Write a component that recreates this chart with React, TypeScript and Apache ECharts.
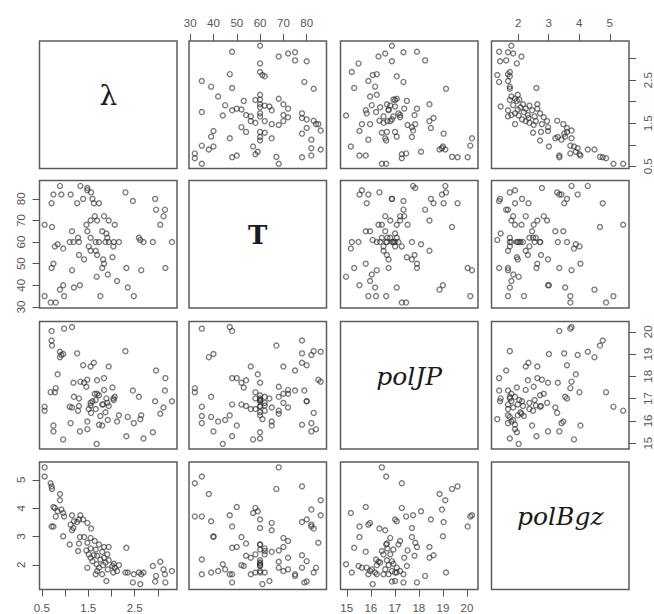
import React, { useEffect, useRef } from 'react';
import * as echarts from 'echarts';

// Observations (one entry per point, same order in every array)
const lam = [0.56, 0.56, 0.69, 0.71, 0.72, 0.89, 0.89, 0.75, 0.78, 0.92,
  0.84, 0.96, 1.15, 1.33, 0.98, 0.80, 1.39, 1.30, 1.19, 1.26,
  1.48, 1.12, 0.71, 0.75, 1.18, 1.56, 1.15, 0.96, 1.32, 1.41,
  1.55, 1.64, 1.48, 1.30, 1.10, 1.73, 1.84, 1.94, 2.32, 1.55,
  1.66, 1.46, 1.28, 1.80, 1.51, 1.91, 1.62, 1.69, 1.55, 1.84,
  1.76, 1.94, 1.59, 3.05, 1.87, 2.05, 1.68, 2.16, 1.82, 2.02,
  2.89, 1.48, 1.73, 2.07, 3.12, 1.92, 2.12, 3.30, 1.69, 2.04,
  2.30, 2.35, 2.59, 2.69, 1.66, 1.80, 2.48, 2.64, 3.15, 2.96,
  1.89, 2.94, 2.46, 3.16, 2.62];

const T = [68, 35, 32, 78, 67, 38, 86, 50, 58, 82,
  59, 57, 47, 86, 35, 32, 80, 60, 39, 78,
  65, 82, 48, 82, 60, 83, 65, 40, 40, 52,
  70, 72, 85, 54, 60, 60, 50, 70, 48, 62,
  60, 68, 62, 65, 58, 62, 78, 54, 56, 72,
  35, 60, 80, 68, 60, 60, 44, 60, 52, 53,
  60, 84, 78, 68, 72, 45, 42, 60, 70, 58,
  83, 39, 62, 60, 56, 48, 35, 47, 75, 75,
  64, 80, 79, 48, 61];

const polJP = [16.46, 16.64, 17.29, 19.61, 19.38, 18.86, 19.10, 15.79, 17.29, 18.96,
  18.09, 15.17, 20.21, 17.76, 20.14, 17.47, 18.50, 17.01, 17.08, 19.03,
  15.97, 15.90, 20.03, 15.53, 17.71, 16.36, 16.60, 19.00, 15.53, 17.71,
  16.81, 17.22, 17.85, 16.67, 16.64, 17.15, 17.92, 18.44, 15.31, 16.69,
  16.94, 17.53, 16.46, 15.79, 16.53, 16.81, 18.61, 17.82, 18.44, 17.39,
  16.22, 16.67, 16.88, 16.32, 16.39, 16.94, 14.97, 16.25, 16.74, 17.50,
  15.49, 15.63, 15.83, 17.08, 16.60, 16.04, 15.97, 16.88, 17.22, 17.01,
  19.13, 16.18, 17.08, 15.21, 16.53, 16.74, 15.90, 16.25, 17.36, 18.26,
  17.01, 16.88, 17.36, 17.92, 16.08];

const polBgz = [5.44, 5.12, 4.88, 4.77, 4.68, 4.50, 4.28, 4.04, 4.01, 3.95,
  3.89, 3.83, 3.75, 3.75, 3.71, 3.71, 3.60, 3.60, 3.54, 3.51,
  3.48, 3.42, 3.35, 3.35, 3.30, 3.28, 3.22, 3.01, 2.98, 2.98,
  2.95, 2.84, 2.78, 2.75, 2.72, 2.72, 2.63, 2.63, 2.60, 2.58,
  2.54, 2.51, 2.49, 2.46, 2.37, 2.37, 2.34, 2.32, 2.25, 2.25,
  2.19, 2.16, 2.13, 2.11, 2.08, 2.04, 2.02, 1.99, 1.99, 1.96,
  1.96, 1.90, 1.90, 1.90, 1.84, 1.84, 1.78, 1.78, 1.78, 1.73,
  1.73, 1.73, 1.73, 1.73, 1.67, 1.67, 1.67, 1.67, 1.67, 1.61,
  1.43, 1.41, 1.38, 1.38, 1.32];

const varNames = ['λ', 'T', 'polJP', 'polBgz'];

// Tick positions and labels
const lamTicks = [0.5, 1, 1.5, 2, 2.5, 3];
const lamLabels = [0.5, 1.5, 2.5];
const TTicks = [30, 40, 50, 60, 70, 80];
const jpTicks = [15, 16, 17, 18, 19, 20];
const bgzTicks = [2, 3, 4, 5];

const vars = [lam, T, polJP, polBgz];
const ranges: [number, number][] = [[0.45, 3.41], [29.5, 88.5], [14.74, 20.46], [1.13, 5.63]];
const tickSets = [lamTicks, TTicks, jpTicks, bgzTicks];
const labelSets = [lamLabels, TTicks, jpTicks, bgzTicks];

// Layout
const colLeft = [39.5, 189, 340.5, 491.5];
const rowTop = [41, 180.5, 321.5, 462];
const panelW = 137.5;
const panelH = 127.5;
const labelLift = 9;

const tickColor = '#555';
const labelStyle = { color: '#555', fontSize: 11.5, fontFamily: 'Liberation Sans, Arial, sans-serif' };

const diagStyles = [
  { fontSize: 28, fontStyle: 'normal', fontWeight: 'normal' },
  { fontSize: 26, fontStyle: 'normal', fontWeight: 'bold' },
  { fontSize: 25, fontStyle: 'italic', fontWeight: 'normal' },
  { fontSize: 25, fontStyle: 'italic', fontWeight: 'normal' },
];

function buildOption() {
  const grids: any[] = [];
  const xAxes: any[] = [];
  const yAxes: any[] = [];
  const series: any[] = [];
  const graphics: any[] = [];

  for (let r = 0; r < 4; r++) {
    for (let c = 0; c < 4; c++) {
      const g = r * 4 + c;
      grids.push({
        left: colLeft[c], top: rowTop[r], width: panelW, height: panelH,
        show: true, borderColor: '#5c5c5c', borderWidth: 1.5, backgroundColor: 'transparent',
        containLabel: false,
      });
      const diag = r === c;
      const showBottom = !diag && r === 3 && (c === 0 || c === 2);
      const showTop = !diag && r === 0 && (c === 1 || c === 3);
      const showLeft = !diag && c === 0 && (r === 1 || r === 3);
      const showRight = !diag && c === 3 && (r === 0 || r === 2);
      const fmt = (v: number) => String(v);
      xAxes.push({
        type: 'value', gridIndex: g, min: ranges[c][0], max: ranges[c][1],
        position: showTop ? 'top' : 'bottom',
        show: showTop || showBottom,
        splitLine: { show: false },
        axisLine: { show: false, onZero: false },
        axisTick: { show: true, inside: false, length: 7, customValues: tickSets[c], lineStyle: { color: tickColor, width: 1 } },
        axisLabel: { show: true, margin: 12, customValues: labelSets[c], formatter: fmt, ...labelStyle },
      });
      yAxes.push({
        type: 'value', gridIndex: g, min: ranges[r][0], max: ranges[r][1],
        position: showRight ? 'right' : 'left',
        show: showLeft || showRight,
        splitLine: { show: false },
        axisLine: { show: false, onZero: false },
        axisTick: { show: true, inside: false, length: 7, customValues: tickSets[r], lineStyle: { color: tickColor, width: 1 } },
        axisLabel: { show: true, margin: 13, rotate: 90, customValues: labelSets[r], formatter: fmt, ...labelStyle },
      });
      if (!diag) {
        const xs = vars[c];
        const ys = vars[r];
        series.push({
          type: 'scatter', xAxisIndex: g, yAxisIndex: g,
          symbol: 'circle', symbolSize: 5,
          data: xs.map((v, i) => [v, ys[i]]),
          itemStyle: { color: 'rgba(0,0,0,0)', borderColor: 'rgba(50,50,50,0.8)', borderWidth: 1.4 },
          emphasis: { disabled: true },
          silent: true,
        });
      } else {
        const ds = diagStyles[r];
        graphics.push({
          type: 'text',
          x: colLeft[c] + panelW / 2,
          y: rowTop[r] + panelH / 2 - labelLift,
          style: {
            text: varNames[r],
            fill: '#1a1a1a',
            fontSize: ds.fontSize,
            fontFamily: "'DejaVu Serif', 'Liberation Serif', serif",
            fontStyle: ds.fontStyle,
            fontWeight: ds.fontWeight,
            align: 'center', verticalAlign: 'middle',
            textAlign: 'center', textVerticalAlign: 'middle',
          },
        });
      }
    }
  }

  return {
    animation: false,
    backgroundColor: '#ffffff',
    grid: grids,
    xAxis: xAxes,
    yAxis: yAxes,
    series,
    graphic: graphics,
  };
}

export default function App() {
  const ref = useRef<HTMLDivElement>(null);
  useEffect(() => {
    if (!ref.current) return;
    const chart = echarts.init(ref.current, undefined, { renderer: 'svg' });
    chart.setOption(buildOption() as any);
    return () => chart.dispose();
  }, []);
  return (
    <div
      ref={ref}
      style={{ position: 'fixed', left: 0, top: 0, width: 654, height: 614, background: '#fff' }}
    />
  );
}
